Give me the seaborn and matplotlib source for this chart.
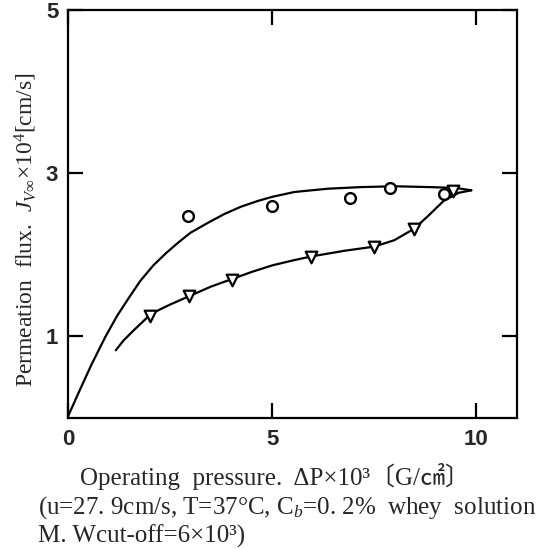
import matplotlib
matplotlib.use("Agg")
import matplotlib.pyplot as plt
import seaborn as sns

# points: pressure (x10^3 G/cm2) vs flux (x10^4 cm/s)
press_circle = [2.95, 5.0, 6.9, 7.9, 9.2]
flux_circle = [2.48, 2.60, 2.70, 2.82, 2.75]

press_tri = [2.0, 2.97, 4.02, 5.95, 7.5, 8.48, 9.42]
flux_tri = [1.25, 1.49, 1.69, 1.97, 2.09, 2.32, 2.78]

# hand-drawn curves
press_upper = [0.0, 0.25, 0.58, 0.91, 1.2, 1.5, 1.77, 2.09, 2.4, 2.7, 3.0,
               3.42, 3.83, 4.24, 4.65, 5.0, 5.55, 6.37, 7.19, 8.0, 8.83,
               9.49, 9.88]
flux_upper = [0.02, 0.30, 0.66, 0.99, 1.25, 1.48, 1.68, 1.87, 2.02, 2.15, 2.27,
              2.39, 2.50, 2.59, 2.66, 2.71, 2.77, 2.81, 2.83, 2.84, 2.83,
              2.82, 2.79]

press_lower = [1.17, 1.36, 1.6, 2.0, 2.25, 2.5, 3.0, 3.5, 4.0, 4.5, 5.0, 5.5,
               5.96, 6.78, 7.5, 8.0, 8.48, 8.83, 9.2, 9.57, 9.88]
flux_lower = [0.83, 0.95, 1.07, 1.26, 1.33, 1.39, 1.50, 1.61, 1.70, 1.79, 1.87,
              1.93, 1.98, 2.05, 2.10, 2.18, 2.32, 2.48, 2.66, 2.76, 2.79]

x_ticks = [0, 5, 10]
y_ticks = [1, 3, 5]

sns.set_theme(style="ticks")
plt.rcParams['font.family'] = ['Liberation Serif', 'DejaVu Serif', 'Noto Sans CJK JP']
plt.rcParams['mathtext.fontset'] = 'custom'
plt.rcParams['mathtext.rm'] = 'Liberation Serif'
plt.rcParams['mathtext.it'] = 'Liberation Serif:italic'

fig = plt.figure(figsize=(5.36, 5.49), dpi=100)
ax = fig.add_axes([0.1269, 0.2386, 0.8377, 0.7432])

sns.lineplot(x=press_upper, y=flux_upper, sort=False, color='black', linewidth=1.6, ax=ax)
sns.lineplot(x=press_lower, y=flux_lower, sort=False, color='black', linewidth=1.6, ax=ax)

sns.scatterplot(x=press_circle, y=flux_circle, marker='o', s=60, facecolor='white',
                edgecolor='black', linewidth=1.7, zorder=3, ax=ax)
sns.scatterplot(x=press_tri, y=flux_tri, marker='v', s=70, facecolor='white',
                edgecolor='black', linewidth=1.6, zorder=3, ax=ax)

ax.set_xlim(0, 11)
ax.set_ylim(0, 5)
ax.set_xticks(x_ticks)
ax.set_yticks(y_ticks)
ax.set_xticklabels([str(t) for t in x_ticks])
ax.set_yticklabels([str(t) for t in y_ticks])
ax.tick_params(direction='in', length=11, width=1.6, top=True, right=True,
               labelsize=16, color='black')
ax.tick_params(axis='x', pad=8)
ax.tick_params(axis='y', pad=7)
for lab in ax.get_xticklabels() + ax.get_yticklabels():
    lab.set_family('Liberation Sans')
    lab.set_fontweight('bold')
for sp in ax.spines.values():
    sp.set_linewidth(1.6)
    sp.set_color('black')

fig.text(26 / 536, 1 - 230 / 549,
         r"Permeation  flux.  $J_{V\infty}$×10$^4$[cm/s]",
         rotation=90, ha='center', va='center', fontsize=17)

fig.text(275 / 536, 1 - 477 / 549, "Operating  pressure.  ΔP×10³〔G/㎠〕",
         ha='center', va='center', fontsize=18)
fig.text(38 / 536, 1 - 508 / 549,
         r"(u=27. 9cm/s, T=37°C, C$_b$=0. 2%  whey  solution",
         ha='left', va='center', fontsize=18)
fig.text(38 / 536, 1 - 536 / 549, "M. Wcut-off=6×10³)",
         ha='left', va='center', fontsize=18)

fig.savefig('out.png', dpi=100)
